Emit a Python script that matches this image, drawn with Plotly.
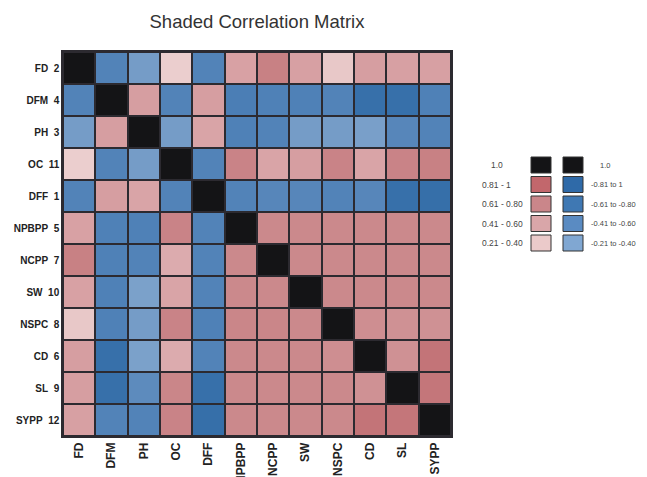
import plotly.graph_objects as go

# The page shows the figure offset by 8px; the visible area ends at x=639.
OX, OY = 8, 8
W, H = 639 - OX, 477 - OY

# ---- data ----
variables = ["FD", "DFM", "PH", "OC", "DFF", "NPBPP", "NCPP", "SW", "NSPC", "CD", "SL", "SYPP"]
var_numbers = ["2", "4", "3", "11", "1", "5", "7", "10", "8", "6", "9", "12"]

row_FD    = [1.00, -0.60, -0.45, 0.25, -0.60, 0.47, 0.72, 0.48, 0.30, 0.50, 0.48, 0.48]
row_DFM   = [-0.60, 1.00, 0.50, -0.60, 0.50, -0.65, -0.62, -0.62, -0.60, -0.80, -0.80, -0.62]
row_PH    = [-0.45, 0.50, 1.00, -0.45, 0.45, -0.62, -0.60, -0.45, -0.45, -0.43, -0.58, -0.60]
row_OC    = [0.25, -0.60, -0.45, 1.00, -0.60, 0.70, 0.45, 0.50, 0.70, 0.45, 0.70, 0.72]
row_DFF   = [-0.60, 0.50, 0.45, -0.60, 1.00, -0.60, -0.58, -0.58, -0.60, -0.58, -0.80, -0.82]
row_NPBPP = [0.47, -0.62, -0.62, 0.70, -0.60, 1.00, 0.66, 0.66, 0.66, 0.66, 0.66, 0.66]
row_NCPP  = [0.72, -0.62, -0.60, 0.42, -0.60, 0.66, 1.00, 0.66, 0.66, 0.66, 0.66, 0.66]
row_SW    = [0.47, -0.62, -0.42, 0.45, -0.60, 0.66, 0.66, 1.00, 0.66, 0.66, 0.66, 0.66]
row_NSPC  = [0.30, -0.62, -0.45, 0.70, -0.62, 0.68, 0.68, 0.66, 1.00, 0.62, 0.60, 0.60]
row_CD    = [0.50, -0.80, -0.42, 0.42, -0.60, 0.66, 0.66, 0.66, 0.62, 1.00, 0.60, 0.82]
row_SL    = [0.50, -0.80, -0.55, 0.68, -0.80, 0.66, 0.66, 0.66, 0.66, 0.60, 1.00, 0.80]
row_SYPP  = [0.48, -0.60, -0.60, 0.70, -0.82, 0.66, 0.66, 0.66, 0.66, 0.82, 0.80, 1.00]

corr = [row_FD, row_DFM, row_PH, row_OC, row_DFF, row_NPBPP,
        row_NCPP, row_SW, row_NSPC, row_CD, row_SL, row_SYPP]

legend_left_labels = ["1.0", "0.81 - 1", "0.61 - 0.80", "0.41 - 0.60", "0.21 - 0.40"]
legend_right_labels = ["1.0", "-0.81 to 1", "-0.61 to -0.80", "-0.41 to -0.60", "-0.21 to -0.40"]
legend_pos_colors = ["#141416", "#c2676c", "#ca868a", "#d9a6a9", "#ebcaca"]
legend_neg_colors = ["#141416", "#2f6aa8", "#3f78b3", "#5a8bc2", "#80a7d2"]

# ---- styling ----
colorscale = [
    [0.000, "rgb(42,102,162)"],
    [0.100, "rgb(55,112,170)"],
    [0.200, "rgb(82,131,184)"],
    [0.300, "rgb(128,164,204)"],
    [0.400, "rgb(172,196,222)"],
    [0.500, "rgb(242,236,236)"],
    [0.600, "rgb(238,212,212)"],
    [0.650, "rgb(232,200,200)"],
    [0.725, "rgb(217,164,167)"],
    [0.825, "rgb(204,138,141)"],
    [0.900, "rgb(196,118,122)"],
    [0.975, "rgb(188,100,104)"],
    [0.985, "rgb(188,100,104)"],
    [1.000, "rgb(20,20,22)"],
]


def px(x):
    return (x - OX) / W


def py(y):
    return 1 - (y - OY) / H


x0, x1 = 63, 451
y0, y1 = 52, 436

fig = go.Figure()
fig.add_trace(go.Heatmap(
    z=corr, x=variables, y=variables,
    zmin=-1, zmax=1, colorscale=colorscale, showscale=False,
    xgap=2, ygap=2, hoverinfo="skip",
))

ylabels = [f"{v}\u00a0\u00a0{n}" for v, n in zip(variables, var_numbers)]

fig.update_layout(
    width=W, height=H,
    margin=dict(l=0, r=0, t=0, b=0),
    paper_bgcolor="white",
    plot_bgcolor="#2c2a30",
    font=dict(family="Arial", color="#222"),
    title=dict(text="Shaded Correlation Matrix", x=px(257), y=py(22),
               xanchor="center", yanchor="middle",
               font=dict(size=18.5, color="#333", family="Arial")),
    xaxis=dict(domain=[px(x0), px(x1)], tickangle=-90, showgrid=False, zeroline=False,
               tickfont=dict(size=12, weight="bold", color="#222"), automargin=False,
               showline=True, mirror=True, linecolor="#2c2a30", linewidth=1.5,
               ticks="", fixedrange=True),
    yaxis=dict(domain=[py(y1), py(y0)], autorange="reversed", showgrid=False,
               zeroline=False, tickmode="array", tickvals=variables, ticktext=ylabels,
               tickfont=dict(size=10, weight="bold", color="#222"), automargin=False,
               showline=True, mirror=True, linecolor="#2c2a30", linewidth=1.5,
               ticks="", fixedrange=True),
)

# ---- legend (boxes + labels) ----
box_w, box_h = 20, 16
left_box_x, right_box_x = 531, 563
row_top0, row_step = 157, 19.5
for i in range(len(legend_left_labels)):
    top = row_top0 + i * row_step
    for bx, col in ((left_box_x, legend_pos_colors[i]), (right_box_x, legend_neg_colors[i])):
        fig.add_shape(type="rect", xref="paper", yref="paper",
                      x0=px(bx), x1=px(bx + box_w),
                      y0=py(top + box_h), y1=py(top),
                      fillcolor=col, line=dict(color="#333", width=1))
    yc = py(top + box_h / 2)
    lx = 489 if i == 0 else 480
    fig.add_annotation(text=legend_left_labels[i], xref="paper", yref="paper",
                       x=px(lx), y=yc, xanchor="left", yanchor="middle", showarrow=False,
                       font=dict(size=8.5, color="#444", family="Arial"))
    rx = 598 if i == 0 else 589
    fig.add_annotation(text=legend_right_labels[i], xref="paper", yref="paper",
                       x=px(rx), y=yc, xanchor="left", yanchor="middle", showarrow=False,
                       font=dict(size=7.5, color="#444", family="Arial"))

fig.write_html("out.html", config={"displayModeBar": False})
